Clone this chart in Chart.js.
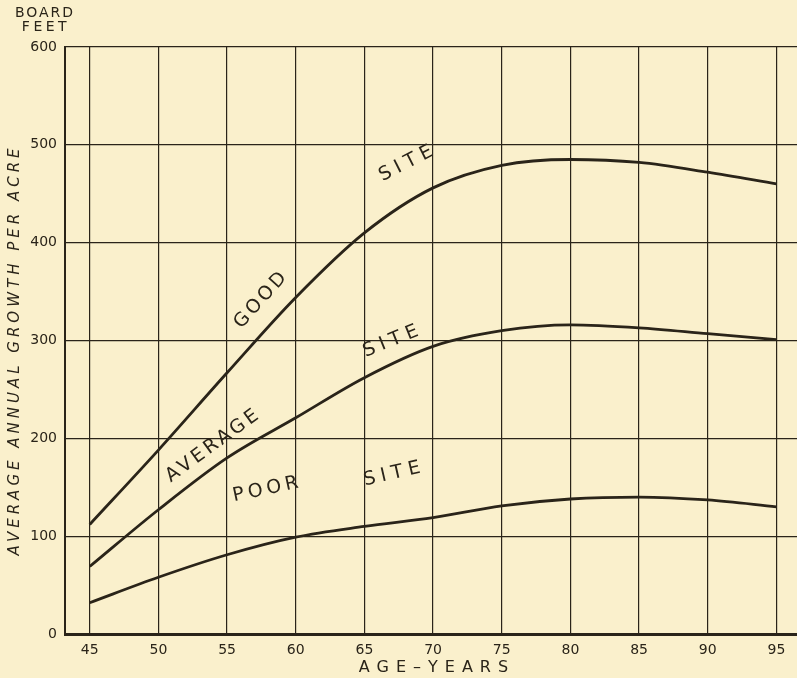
<!DOCTYPE html>
<html>
<head>
<meta charset="utf-8">
<script src="https://cdn.jsdelivr.net/npm/chart.js@4"></script>
<style>
  html, body { margin: 0; padding: 0; background: #faf0cc; }
  #wrap { width: 797px; height: 678px; }
</style>
</head>
<body>
<div id="wrap"><canvas id="growthChart" width="797" height="678"></canvas></div>
<script>
// Age in years
const years = [45, 50, 55, 60, 65, 70, 75, 80, 85, 90, 95];
// Average annual growth per acre, board feet
const goodSite = [112, 188, 267, 344, 410, 456, 479, 485, 482, 472, 460];
const averageSite = [69, 127, 180, 221, 262, 294, 310, 316, 313, 307, 301];
const poorSite = [32, 58, 81, 99, 110, 119, 131, 138, 140, 137, 130];
const xTicks = [45, 50, 55, 60, 65, 70, 75, 80, 85, 90, 95];
const yTicks = [0, 100, 200, 300, 400, 500, 600];

const ink = '#2a2419';
const paper = '#faf0cc';
const font = '"DejaVu Sans"';

const toPoints = vals => vals.map((v, i) => ({ x: years[i], y: v }));

// labels written along the curves: [text, x, y, angle, spacing]
const curveLabels = [
    ['GOOD', 57.4, 342, -48, 3],
    ['SITE', 68.0, 482, -27, 5.5],
    ['AVERAGE', 53.9, 193, -36, 3.5],
    ['SITE', 66.9, 300, -22, 5.5],
    ['POOR', 57.8, 148, -12, 4],
    ['SITE', 67.0, 164, -13, 5.5]
];

const paperPlugin = {
    id: 'paper',
    beforeDraw(chart) {
        const ctx = chart.ctx;
        ctx.save();
        ctx.fillStyle = paper;
        ctx.fillRect(0, 0, chart.width, chart.height);
        ctx.restore();
    }
};

const textPlugin = {
    id: 'texts',
    afterDraw(chart) {
        const ctx = chart.ctx;
        const xs = chart.scales.x, ys = chart.scales.y;
        ctx.save();
        ctx.fillStyle = ink;
        ctx.textAlign = 'center';
        ctx.textBaseline = 'middle';

        ctx.font = '19px ' + font;
        curveLabels.forEach(([txt, x, y, a, sp]) => {
            ctx.save();
            ctx.letterSpacing = sp + 'px';
            ctx.translate(xs.getPixelForValue(x) + sp / 2, ys.getPixelForValue(y));
            ctx.rotate(a * Math.PI / 180);
            ctx.fillText(txt, 0, 0);
            ctx.restore();
        });

        // unit label above the y axis
        ctx.font = '14px ' + font;
        ctx.letterSpacing = '2px';
        ctx.fillText('BOARD', 45, 13);
        ctx.letterSpacing = '3.5px';
        ctx.fillText('FEET', 46, 27);

        // x axis title
        ctx.font = '16px ' + font;
        ctx.letterSpacing = '7px';
        ctx.fillText('AGE\u2013YEARS', (xs.left + xs.right) / 2 + 6, 668);

        // y axis title
        ctx.font = 'oblique 15px ' + font;
        ctx.letterSpacing = '4px';
        ctx.translate(15, 350);
        ctx.rotate(-Math.PI / 2);
        ctx.fillText('AVERAGE ANNUAL GROWTH PER ACRE', 0, 0);
        ctx.restore();
    }
};

const mkSet = (label, vals) => ({
    label: label,
    data: toPoints(vals),
    borderColor: ink,
    borderWidth: 2.8,
    pointRadius: 0,
    cubicInterpolationMode: 'monotone',
    fill: false
});

new Chart(document.getElementById('growthChart'), {
    type: 'line',
    data: {
        datasets: [
            mkSet('Good site', goodSite),
            mkSet('Average site', averageSite),
            mkSet('Poor site', poorSite)
        ]
    },
    options: {
        responsive: false,
        animation: false,
        layout: { padding: { top: 47, right: 0, left: 0, bottom: 0 } },
        plugins: { legend: { display: false }, tooltip: { enabled: false } },
        scales: {
            x: {
                type: 'linear',
                min: 43.2,
                max: 96.5,
                afterBuildTicks: s => { s.ticks = xTicks.map(v => ({ value: v })); },
                afterFit: s => { s.height = 44; },
                grid: { color: ink, lineWidth: 1.2, drawTicks: false },
                border: { color: ink, width: 3 },
                ticks: {
                    color: ink,
                    padding: 8,
                    maxRotation: 0,
                    font: { family: 'DejaVu Sans', size: 14 }
                }
            },
            y: {
                min: 0,
                max: 600,
                afterBuildTicks: s => { s.ticks = yTicks.map(v => ({ value: v })); },
                afterFit: s => { s.width = 65; },
                grid: { color: ink, lineWidth: 1.2, drawTicks: false },
                border: { color: ink, width: 2 },
                ticks: {
                    color: ink,
                    padding: 8,
                    font: { family: 'DejaVu Sans', size: 14 }
                }
            }
        }
    },
    plugins: [paperPlugin, textPlugin]
});
</script>
</body>
</html>
